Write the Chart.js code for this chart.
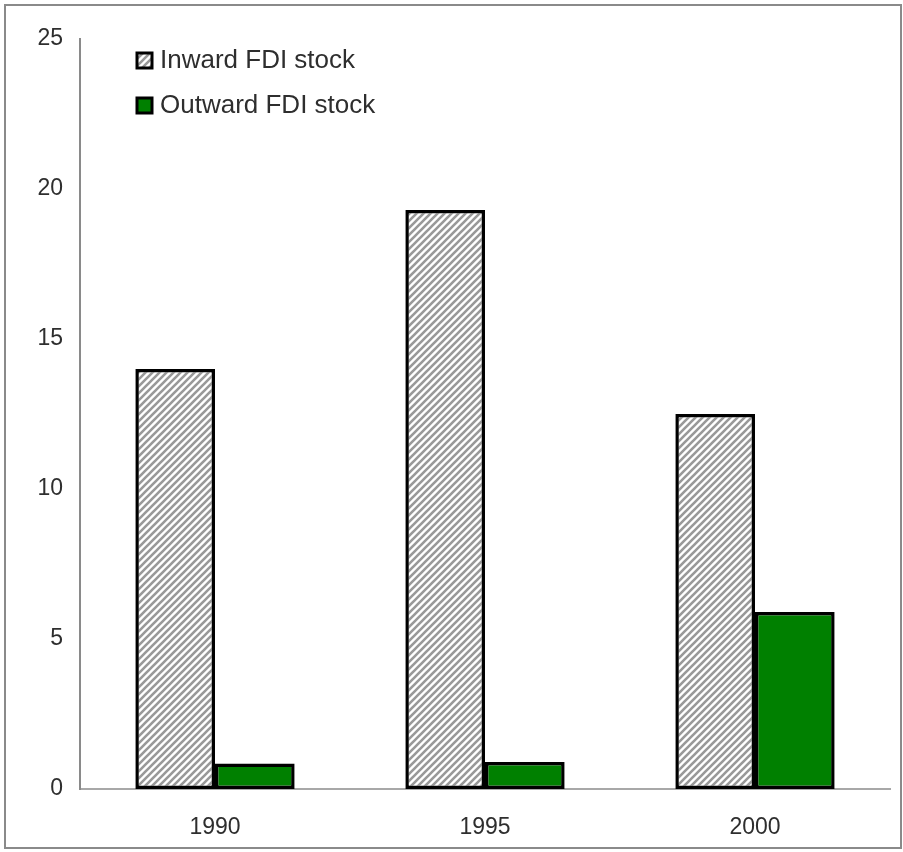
<!DOCTYPE html>
<html>
<head>
<meta charset="utf-8">
<script src="https://cdn.jsdelivr.net/npm/chart.js@4/dist/chart.umd.min.js"></script>
<style>
  html, body { margin: 0; padding: 0; background: #fff; }
  canvas { display: block; }
</style>
</head>
<body>
<canvas id="fdi" width="903" height="852"></canvas>
<script>
// Categories and series
const years = ['1990', '1995', '2000'];
const inwardStock = [14.0, 19.3, 12.5];
const outwardStock = [0.85, 0.9, 5.9];
const seriesNames = ['Inward FDI stock', 'Outward FDI stock'];
const yTicks = [0, 5, 10, 15, 20, 25];

// Diagonal hatch fill for the inward series
function makeHatch() {
  const s = 7;
  const c = document.createElement('canvas');
  c.width = s; c.height = s;
  const g = c.getContext('2d');
  g.fillStyle = '#ffffff';
  g.fillRect(0, 0, s, s);
  g.strokeStyle = '#999999';
  g.lineWidth = 2.6;
  g.beginPath();
  g.moveTo(-1, s + 1); g.lineTo(s + 1, -1);
  g.moveTo(-1, 1); g.lineTo(1, -1);
  g.moveTo(s - 1, s + 1); g.lineTo(s + 1, s - 1);
  g.stroke();
  return c;
}
const ctx = document.getElementById('fdi').getContext('2d');
const hatch = ctx.createPattern(makeHatch(), 'repeat');

const textColor = '#2e2e2e';
const fontFamily = '"Liberation Sans", Arial, sans-serif';

// Outer frame around the whole figure
const framePlugin = {
  id: 'frame',
  beforeDraw(chart) {
    const c = chart.ctx;
    c.save();
    c.fillStyle = '#ffffff';
    c.fillRect(0, 0, chart.width, chart.height);
    c.strokeStyle = '#8a8a8a';
    c.lineWidth = 2;
    c.strokeRect(5, 5, 896, 843);
    c.restore();
  }
};

// Legend drawn inside the plot, top-left, stacked vertically
const insideLegend = {
  id: 'insideLegend',
  afterDraw(chart) {
    const c = chart.ctx;
    const x0 = chart.chartArea.left + 57;
    const rows = [61, 106];
    c.save();
    chart.data.datasets.forEach((ds, i) => {
      const y = rows[i];
      c.fillStyle = ds.backgroundColor;
      c.fillRect(x0, y - 8, 15, 15);
      c.strokeStyle = '#000';
      c.lineWidth = 3;
      c.strokeRect(x0, y - 8, 15, 15);
      c.fillStyle = textColor;
      c.font = '26px ' + fontFamily;
      c.textBaseline = 'middle';
      c.textAlign = 'left';
      c.fillText(ds.label, x0 + 23, y);
    });
    c.restore();
  }
};

new Chart(ctx, {
  type: 'bar',
  data: {
    labels: years,
    datasets: [
      {
        label: seriesNames[0],
        data: inwardStock,
        backgroundColor: hatch,
        borderColor: '#000000',
        borderWidth: 3.5,
        borderSkipped: false
      },
      {
        label: seriesNames[1],
        data: outwardStock,
        backgroundColor: '#008000',
        borderColor: '#000000',
        borderWidth: 3.5,
        borderSkipped: false
      }
    ]
  },
  options: {
    responsive: false,
    animation: false,
    layout: { padding: { left: 0, right: 13, top: 39, bottom: 0 } },
    datasets: { bar: { categoryPercentage: 0.59, barPercentage: 1.0 } },
    plugins: {
      legend: { display: false },
      tooltip: { enabled: false }
    },
    scales: {
      x: {
        grid: { display: false, drawTicks: false },
        border: { display: true, color: '#a8a8a8', width: 2 },
        ticks: { color: textColor, font: { size: 23, family: fontFamily }, padding: 25 },
        afterFit(scale) { scale.height = 63; }
      },
      y: {
        min: 0,
        max: 25,
        afterBuildTicks(scale) { scale.ticks = yTicks.map(v => ({ value: v })); },
        grid: { display: false, drawTicks: false },
        border: { display: true, color: '#8a8a8a', width: 2 },
        ticks: { color: textColor, font: { size: 23, family: fontFamily }, padding: 17 },
        afterFit(scale) { scale.width = 80; }
      }
    }
  },
  plugins: [framePlugin, insideLegend]
});
</script>
</body>
</html>
